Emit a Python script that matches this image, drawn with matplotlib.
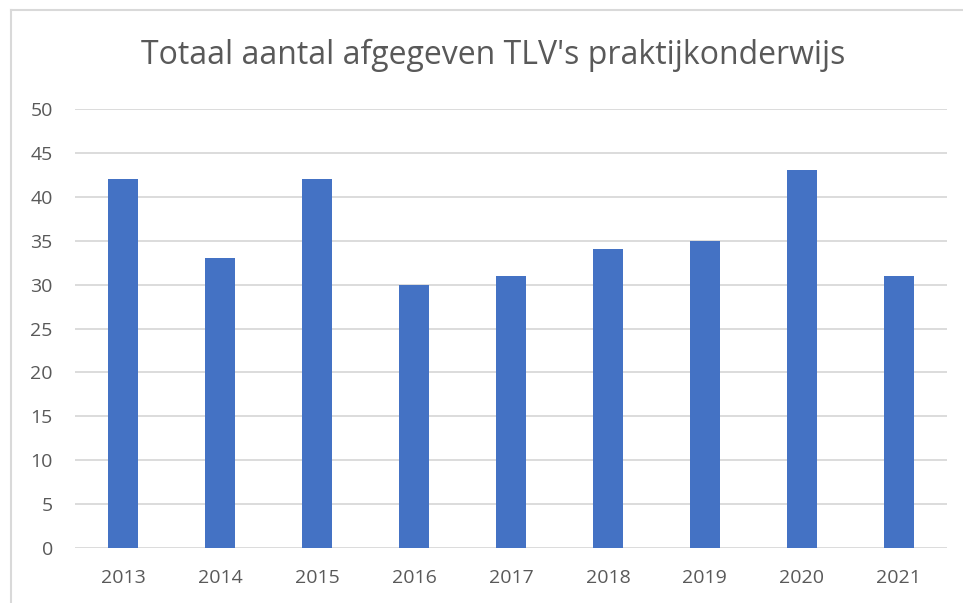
import matplotlib
matplotlib.use("Agg")
import matplotlib.pyplot as plt
from matplotlib.lines import Line2D
import numpy as np

plt.rcParams['font.family'] = ['Open Sans', 'DejaVu Sans']

years = ["2013", "2014", "2015", "2016", "2017", "2018", "2019", "2020", "2021"]
counts = [42, 33, 42, 30, 31, 34, 35, 43, 31]
y_ticks = [0, 5, 10, 15, 20, 25, 30, 35, 40, 45, 50]

text_col = "#595959"
grid_col = "#D9D9D9"
bar_col = "#4472C4"

fig = plt.figure(figsize=(9.63, 6.03), dpi=100)
ax = fig.add_axes([0.0779, 0.0912, 0.9055, 0.728])

x = np.arange(len(years))
ax.bar(x, counts, width=0.31, color=bar_col, zorder=3)

ax.set_xlim(-0.5, len(years) - 0.5)
ax.set_ylim(0, 50)
ax.set_yticks(y_ticks)
ax.set_xticks(x)
ax.set_xticklabels(years)
ax.yaxis.grid(True, color=grid_col, linewidth=1.3, zorder=0)
ax.set_axisbelow(True)
for s in ax.spines.values():
    s.set_visible(False)
ax.tick_params(axis='both', length=0, labelsize=14, colors=text_col)
ax.tick_params(axis='y', pad=16)
ax.tick_params(axis='x', pad=15)

fig.text(0.512, 0.908, "Totaal aantal afgegeven TLV's praktijkonderwijs",
         ha='center', va='center', fontsize=23, color=text_col)

# chart area border (only top and left visible in the crop)
W, H = 963, 603
fig.add_artist(Line2D([11 / W, 1], [1 - 9.5 / H] * 2, transform=fig.transFigure,
                      color=grid_col, linewidth=1.5))
fig.add_artist(Line2D([11 / W] * 2, [0, 1 - 9.5 / H], transform=fig.transFigure,
                      color=grid_col, linewidth=1.5))

fig.savefig("out.png", dpi=100)
